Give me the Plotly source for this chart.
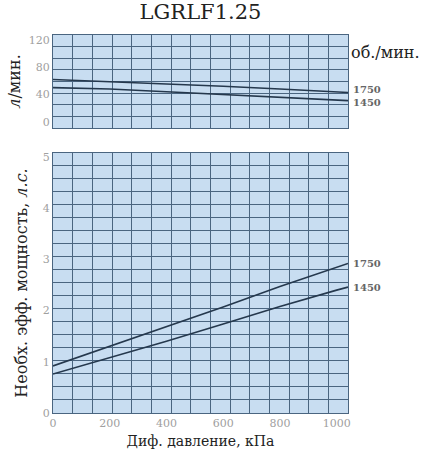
import plotly.graph_objects as go

pressure = [0, 200, 400, 600, 800, 1000, 1040]
flow_1750 = [62, 59, 56, 52, 48, 44, 43]
flow_1450 = [50, 48, 44, 40, 36, 32, 31]
power_1750 = [0.92, 1.30, 1.68, 2.07, 2.47, 2.85, 2.92]
power_1450 = [0.76, 1.08, 1.40, 1.74, 2.08, 2.40, 2.46]
x_ticks = [0, 200, 400, 600, 800, 1000]
flow_ticks = [0, 40, 80, 120]
power_ticks = [0, 1, 2, 3, 4, 5]
speed_labels = ["1750", "1450"]

BG = "#c8ddf1"
GRID = "#4a6580"
LINE = "#25384d"
TICKC = "#a0a0a0"
SERIF = "DejaVu Serif"

fig = go.Figure()
fig.add_trace(go.Scatter(x=pressure, y=flow_1750, mode="lines", line=dict(color=LINE, width=1.6),
                         xaxis="x", yaxis="y", showlegend=False))
fig.add_trace(go.Scatter(x=pressure, y=flow_1450, mode="lines", line=dict(color=LINE, width=1.6),
                         xaxis="x", yaxis="y", showlegend=False))
fig.add_trace(go.Scatter(x=pressure, y=power_1750, mode="lines", line=dict(color=LINE, width=1.6),
                         xaxis="x2", yaxis="y2", showlegend=False))
fig.add_trace(go.Scatter(x=pressure, y=power_1450, mode="lines", line=dict(color=LINE, width=1.6),
                         xaxis="x2", yaxis="y2", showlegend=False))

xrange = [0, 1040]
common_x = dict(range=xrange, showgrid=False, zeroline=False, showline=True, linecolor=GRID,
                linewidth=1, mirror=True,
                minor=dict(tick0=0, dtick=1040 / 15, showgrid=True, gridcolor=GRID, gridwidth=1.3))

fig.update_layout(
    width=422, height=461,
    margin=dict(l=53, r=74, t=35, b=48),
    paper_bgcolor="white", plot_bgcolor=BG,
    font=dict(family=SERIF, color="#222"),
    title=dict(text="LGRLF1.25", xref="paper", x=0.5, xanchor="center", y=0.99, yanchor="top",
               font=dict(size=21, family=SERIF, color="#222")),
    xaxis=dict(common_x, domain=[0, 1], anchor="y", showticklabels=False),
    yaxis=dict(domain=[0.754, 1.0], range=[-9, 127], tickvals=flow_ticks,
               tickfont=dict(size=11, color=TICKC, family=SERIF),
               showgrid=False, zeroline=False, showline=True, linecolor=GRID, mirror=True,
               minor=dict(tick0=-9, dtick=17, showgrid=True, gridcolor=GRID, gridwidth=1.3),
               title=dict(text="<i>л</i>/мин.", font=dict(size=16, family=SERIF, color="#222"), standoff=4)),
    xaxis2=dict(common_x, domain=[0, 1], anchor="y2", tickvals=x_ticks,
                tickfont=dict(size=11, color=TICKC, family=SERIF),
                title=dict(text="Диф. давление, кПа", font=dict(size=14, family=SERIF, color="#222"), standoff=6)),
    yaxis2=dict(domain=[0, 0.688], range=[0, 5.08], tickvals=power_ticks,
                tickfont=dict(size=11, color=TICKC, family=SERIF),
                showgrid=False, zeroline=False, showline=True, linecolor=GRID, mirror=True,
                minor=dict(tick0=0, dtick=0.254, showgrid=True, gridcolor=GRID, gridwidth=1.3),
                title=dict(text="Необх. эфф. мощность, <i>л.с.</i>", font=dict(size=16, family=SERIF, color="#222"), standoff=11)),
)

fig.add_annotation(text="об./мин.", xref="paper", yref="paper", x=1.005, y=0.955, xanchor="left",
                   yanchor="middle", showarrow=False, font=dict(size=16, family=SERIF, color="#222"))
fig.add_annotation(text="<b>" + speed_labels[0] + "</b>", xref="paper", yref="y", x=1.01, y=flow_1750[-1] + 4, xanchor="left",
                   showarrow=False, font=dict(size=10, family=SERIF, color="#666"))
fig.add_annotation(text="<b>" + speed_labels[1] + "</b>", xref="paper", yref="y", x=1.01, y=flow_1450[-1] - 3, xanchor="left",
                   showarrow=False, font=dict(size=10, family=SERIF, color="#666"))
fig.add_annotation(text="<b>" + speed_labels[0] + "</b>", xref="paper", yref="y2", x=1.01, y=power_1750[-1], xanchor="left",
                   showarrow=False, font=dict(size=10, family=SERIF, color="#666"))
fig.add_annotation(text="<b>" + speed_labels[1] + "</b>", xref="paper", yref="y2", x=1.01, y=power_1450[-1], xanchor="left",
                   showarrow=False, font=dict(size=10, family=SERIF, color="#666"))

fig.write_html("out.html")
